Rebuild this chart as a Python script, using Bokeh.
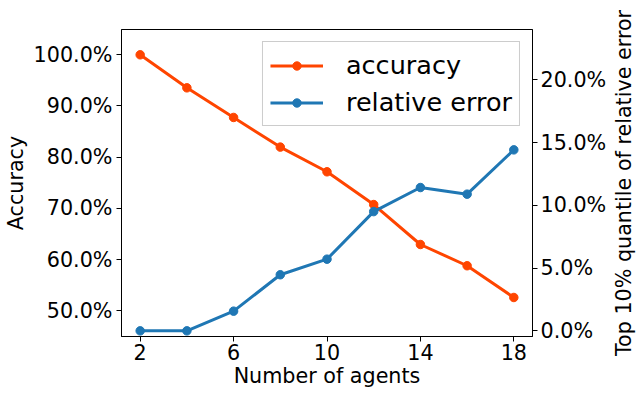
import math
from bokeh.plotting import figure
from bokeh.layouts import row
from bokeh.models import Range1d, LinearAxis, NumeralTickFormatter, FixedTicker, Legend, LegendItem
from bokeh.embed import file_html
from bokeh.resources import INLINE

# ---- data ----
agents = [2, 4, 6, 8, 10, 12, 14, 16, 18]
accuracy = [1.000, 0.9355, 0.8776, 0.8197, 0.7715, 0.7075, 0.6295, 0.588, 0.526]
rel_error = [0.0, 0.0, 0.0157, 0.0447, 0.0571, 0.0950, 0.1142, 0.1089, 0.1442]
x_ticks = [2, 6, 10, 14, 18]
acc_ticks = [0.5, 0.6, 0.7, 0.8, 0.9, 1.0]
err_ticks = [0.0, 0.05, 0.10, 0.15, 0.20]

FONT = "DejaVu Sans"
FS = "20.7px"
ORANGE = "#FF4500"
BLUE = "#1F77B4"

W1, H = 609, 395
TOP, BOTTOM = 29, 59
p = figure(width=W1, height=H, output_backend="svg", toolbar_location=None,
           x_range=Range1d(1.2, 18.8), y_range=Range1d(0.4498, 1.0494),
           min_border_left=120, min_border_right=W1 - 120 - 413,
           min_border_top=TOP, min_border_bottom=BOTTOM)
p.extra_y_ranges = {"err": Range1d(-0.0045, 0.2401)}

p.grid.visible = False
p.outline_line_color = "black"
p.outline_line_width = 1
p.background_fill_color = "white"
p.border_fill_color = "white"

r_acc = p.line(agents, accuracy, line_color=ORANGE, line_width=3)
m_acc = p.scatter(agents, accuracy, size=8.5, fill_color=ORANGE, line_color=ORANGE)
r_err = p.line(agents, rel_error, line_color=BLUE, line_width=3, y_range_name="err")
m_err = p.scatter(agents, rel_error, size=8.5, fill_color=BLUE, line_color=BLUE, y_range_name="err")

right = LinearAxis(y_range_name="err")
p.add_layout(right, "right")

def style_axis(ax):
    ax.axis_line_color = "black"
    ax.major_tick_line_color = "black"
    ax.major_tick_out = 5
    ax.major_tick_in = 0
    ax.minor_tick_line_color = None
    ax.major_label_text_font = FONT
    ax.major_label_text_font_size = FS
    ax.major_label_text_color = "black"
    ax.axis_label_text_font = FONT
    ax.axis_label_text_font_size = FS
    ax.axis_label_text_font_style = "normal"
    ax.axis_label_text_color = "black"

xa = p.xaxis[0]
style_axis(xa)
xa.ticker = FixedTicker(ticks=x_ticks)
xa.axis_label = "Number of agents"
xa.major_label_standoff = 2
xa.axis_label_standoff = 1

ya = p.yaxis[0]
style_axis(ya)
ya.ticker = FixedTicker(ticks=acc_ticks)
ya.formatter = NumeralTickFormatter(format="0.0%")
ya.axis_label = "Accuracy"
ya.major_label_standoff = 4
ya.axis_label_standoff = 3

style_axis(right)
right.ticker = FixedTicker(ticks=err_ticks)
right.formatter = NumeralTickFormatter(format="0.0%")
right.major_label_standoff = 3

legend = Legend(items=[LegendItem(label="accuracy", renderers=[r_acc, m_acc]),
                       LegendItem(label="relative error", renderers=[r_err, m_err])],
                location="top_right", margin=12, padding=7,
                glyph_width=53, glyph_height=21, label_standoff=23,
                label_height=32, spacing=5,
                label_text_font=FONT, label_text_font_size="25.5px",
                label_text_color="black",
                border_line_color="#CCCCCC", border_line_alpha=1.0,
                background_fill_alpha=0.8)
p.add_layout(legend)

# narrow strip whose left-axis title is the right-hand title (reads bottom-to-top)
W2 = 640 - W1
p2 = figure(width=W2, height=H, output_backend="svg", toolbar_location=None,
            x_range=Range1d(0, 1), y_range=Range1d(0, 1),
            min_border_left=W2 - 4, min_border_right=0,
            min_border_top=TOP, min_border_bottom=BOTTOM, x_axis_type=None)
p2.grid.visible = False
p2.outline_line_color = None
ax2 = p2.yaxis[0]
ax2.ticker = FixedTicker(ticks=[])
ax2.axis_line_color = None
ax2.major_tick_line_color = None
ax2.minor_tick_line_color = None
ax2.major_tick_out = 0
ax2.major_label_standoff = 0
ax2.axis_label = "Top 10% quantile of relative error"
ax2.axis_label_standoff = 5
ax2.axis_label_text_font = FONT
ax2.axis_label_text_font_size = FS
ax2.axis_label_text_font_style = "normal"
ax2.axis_label_text_color = "black"

layout = row(p, p2)
open("out.html", "w").write(file_html(layout, INLINE))
